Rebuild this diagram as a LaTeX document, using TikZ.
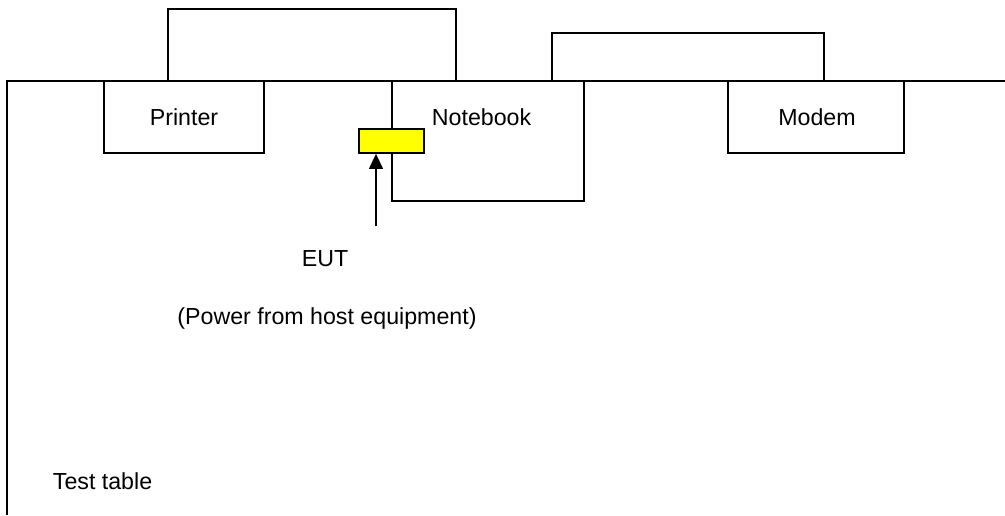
\documentclass[tikz,border=0pt]{standalone}
\usepackage{fontspec}
\setmainfont{Liberation Sans}
\usetikzlibrary{arrows.meta}
\definecolor{eutyellow}{RGB}{255,255,0}
\begin{document}
\begin{tikzpicture}[x=1pt,y=-1pt,
  line width=1.8pt,
  lbl/.style={font=\fontsize{23.2}{28}\selectfont, inner sep=0pt},
  devbox/.style={draw, line width=1.8pt, inner sep=0pt},
  cable/.style={draw, line width=1.8pt},
  eutbox/.style={draw, fill=eutyellow, line width=1.8pt, inner sep=0pt, minimum width=65pt, minimum height=24pt}
]
\useasboundingbox (0,0) rectangle (1005,515);
% table
\coordinate (tl) at (7,515);
\coordinate (tc) at (7,81);
\coordinate (tr) at (1005,81);
\draw (tl) -- (tc) -- (tr);
% devices
\node[devbox, minimum width=160pt, minimum height=72pt] (printer) at (184,117) {};
\node[devbox, minimum width=192pt, minimum height=120pt] (notebook) at (488,141) {};
\node[devbox, minimum width=176pt, minimum height=72pt] (modem) at (816,117) {};
% labels
\node[lbl] (printerlbl) at (184,117) {Printer};
\node[lbl, anchor=west] (notebooklbl) at (431,117) {Notebook};
\node[lbl] (modemlbl) at (817,117) {Modem};
% cables
\coordinate (c1a) at (168,81);
\coordinate (c1b) at (456,81);
\draw[cable] (c1a) -- (168,9) -- (456,9) -- (c1b);
\coordinate (c2a) at (552,81);
\coordinate (c2b) at (824,81);
\draw[cable] (c2a) -- (552,33) -- (824,33) -- (c2b);
% EUT
\node[eutbox] (eut) at (391.5,141) {};
\coordinate (arrowfoot) at (376,226);
\draw[line width=1.3pt, -{Triangle[width=14pt,length=15pt]}] (arrowfoot) -- (arrowfoot |- eut.south);
\node[lbl] (eutlbl) at (325,259) {EUT};
\node[lbl] (powerlbl) at (327,318) {(Power from host equipment)};
\node[lbl, anchor=west] (tablelbl) at (52,481) {Test table};
\end{tikzpicture}
\end{document}
